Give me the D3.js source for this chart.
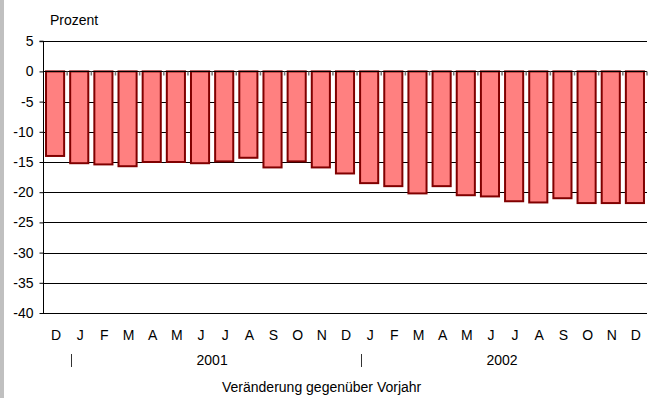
<!DOCTYPE html>
<html>
<head>
<meta charset="utf-8">
<script src="https://cdn.jsdelivr.net/npm/d3@7"></script>
<style>
  html, body { margin: 0; padding: 0; background: #fff; }
  svg { display: block; font-family: Arial, "Liberation Sans", sans-serif; }
</style>
</head>
<body>
<svg id="chart" width="658" height="398"></svg>
<script>
// Monthly change vs. previous year, Dec 2000 – Dec 2002 (percent)
const months = ["D","J","F","M","A","M","J","J","A","S","O","N","D","J","F","M","A","M","J","J","A","S","O","N","D"];
const values = [-14.0,-15.2,-15.4,-15.7,-15.0,-15.0,-15.2,-14.9,-14.3,-15.9,-14.9,-15.9,-16.9,-18.5,-19.0,-20.2,-19.0,-20.5,-20.7,-21.5,-21.7,-21.0,-21.8,-21.8,-21.8];
const yTicks = [5,0,-5,-10,-15,-20,-25,-30,-35,-40];
const years = [{label: "2001", from: 1, to: 12}, {label: "2002", from: 13, to: 24}];
const yearDividers = [1, 13];

const svg = d3.select("#chart");
const plotLeft = 43, plotRight = 647, plotTop = 41.2, plotBottom = 313;
const fontSize = 14;

// gray strip on the left edge
svg.append("rect").attr("x", 0).attr("y", 0).attr("width", 4).attr("height", 398).attr("fill", "#c0c0c0");

const x = d3.scaleBand().domain(d3.range(months.length)).range([plotLeft, plotRight]).paddingInner(0.25).paddingOuter(0.125);
const y = d3.scaleLinear().domain([-40, 5]).range([plotBottom, plotTop]);

// horizontal gridlines
svg.append("g").selectAll("line").data(yTicks.filter(d => d !== 0)).join("line")
  .attr("x1", plotLeft).attr("x2", plotRight)
  .attr("y1", d => Math.round(y(d)) + 0.5).attr("y2", d => Math.round(y(d)) + 0.5)
  .attr("stroke", "#000").attr("stroke-width", 1);

// y axis (plain hyphen for negatives)
const yAxis = svg.append("g").attr("transform", `translate(${plotLeft + 0.5},0)`)
  .call(d3.axisLeft(y).tickValues(yTicks).tickSize(4).tickPadding(6).tickFormat(d => String(d)));
yAxis.selectAll("text").attr("font-size", fontSize).attr("fill", "#000").attr("font-family", "Arial, 'Liberation Sans', sans-serif");
yAxis.selectAll("line").attr("stroke", "#000");
yAxis.select(".domain").attr("stroke", "#000").attr("d", `M-4,${plotTop}H0V${plotBottom}`);

// bars
svg.append("g").selectAll("rect").data(values).join("rect")
  .attr("x", (d, i) => x(i))
  .attr("y", d => y(Math.max(0, d)))
  .attr("width", x.bandwidth())
  .attr("height", d => Math.abs(y(d) - y(0)))
  .attr("fill", "#ff8080")
  .attr("stroke", "#800000")
  .attr("stroke-width", 2);

// zero line with category ticks
const zy = Math.round(y(0)) + 0.5;
svg.append("line").attr("x1", plotLeft).attr("x2", plotRight).attr("y1", zy).attr("y2", zy).attr("stroke", "#000");
const step = x.step();
svg.append("g").selectAll("line").data(d3.range(1, months.length + 1)).join("line")
  .attr("x1", i => plotLeft + i * step).attr("x2", i => plotLeft + i * step)
  .attr("y1", zy).attr("y2", zy + 4)
  .attr("stroke", "#777").attr("stroke-width", 1.5);

// month labels
svg.append("g").selectAll("text").data(months).join("text")
  .attr("x", (d, i) => x(i) + x.bandwidth() / 2 + 1)
  .attr("y", 340)
  .attr("text-anchor", "middle").attr("font-size", fontSize).attr("fill", "#000")
  .text(d => d);

// year labels and dividers
svg.append("g").selectAll("text").data(years).join("text")
  .attr("x", d => (x(d.from) + x(d.to) + x.bandwidth()) / 2)
  .attr("y", 365)
  .attr("text-anchor", "middle").attr("font-size", fontSize).attr("fill", "#000")
  .text(d => d.label);
svg.append("g").selectAll("line").data(yearDividers).join("line")
  .attr("x1", i => Math.round(plotLeft + i * step + 4) + 0.5).attr("x2", i => Math.round(plotLeft + i * step + 4) + 0.5)
  .attr("y1", 354).attr("y2", 367)
  .attr("stroke", "#333").attr("stroke-width", 1);

// axis titles
svg.append("text").attr("x", 50).attr("y", 25).attr("font-size", fontSize).attr("fill", "#000").text("Prozent");
svg.append("text").attr("x", 222).attr("y", 392).attr("font-size", fontSize).attr("fill", "#000").text("Veränderung gegenüber Vorjahr");
</script>
</body>
</html>
